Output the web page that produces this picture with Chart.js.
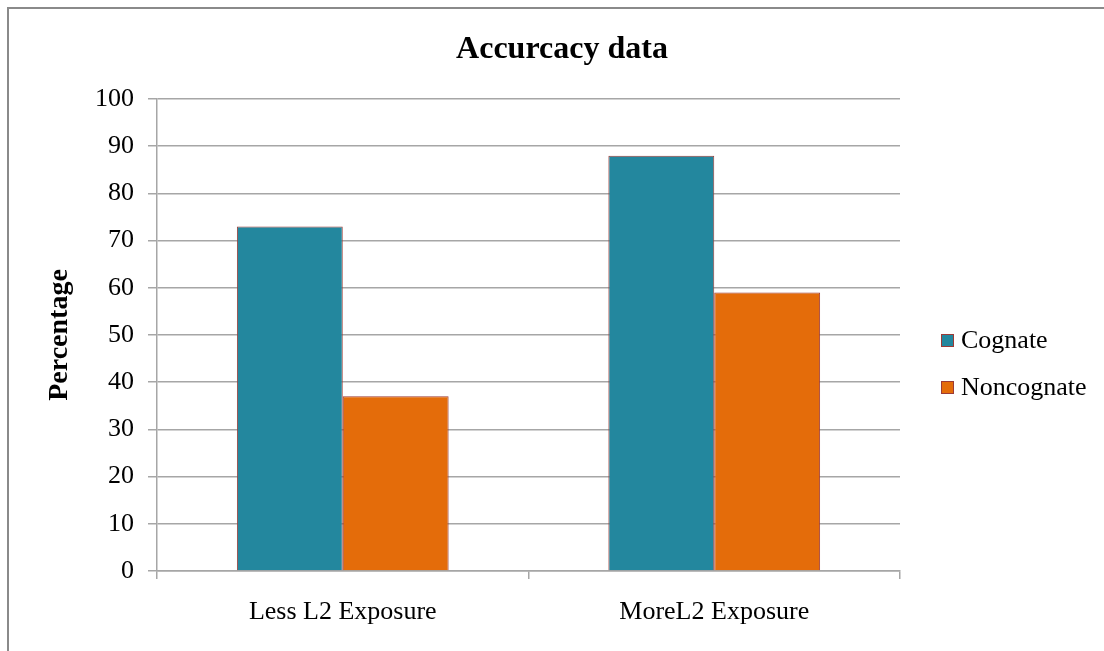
<!DOCTYPE html>
<html>
<head>
<meta charset="utf-8">
<script src="https://cdn.jsdelivr.net/npm/chart.js@4.4.1/dist/chart.umd.min.js"></script>
<style>
  html, body { margin: 0; padding: 0; background: #fff; }
  #caja { position: relative; width: 1104px; height: 651px; }
  #marco { position: absolute; left: 7px; top: 7px; right: -4px; bottom: -4px;
           border-left: 2px solid #8a8a8a; border-top: 2px solid #8a8a8a; }
  canvas { position: absolute; left: 0; top: 0; }
</style>
</head>
<body>
<div id="caja">
  <div id="marco"></div>
  <canvas id="miGrafica" width="1104" height="651"></canvas>
</div>
<script>
// Datos de la gráfica
const categorias = ['Less L2 Exposure', 'MoreL2 Exposure'];
const cognado = [73, 88];
const noCognado = [37, 59];
const nombresSeries = ['Cognate', 'Noncognate'];
const coloresSeries = ['#23879e', '#e46c0a'];
const borde = '#9c3b36';
const fuente = "'Liberation Serif', 'Times New Roman', serif";

// Leyenda dibujada a mano (a la derecha, como en el original)
const leyendaPropia = {
  id: 'leyendaPropia',
  afterDraw(chart) {
    const ctx = chart.ctx;
    ctx.save();
    ctx.font = "26px " + fuente;
    ctx.textBaseline = 'middle';
    chart.data.datasets.forEach((ds, i) => {
      const y = 340 + i * 47;
      ctx.fillStyle = ds.backgroundColor;
      ctx.fillRect(941, y - 6, 13, 13);
      ctx.strokeStyle = borde;
      ctx.lineWidth = 1;
      ctx.strokeRect(941.5, y - 5.5, 12, 12);
      ctx.fillStyle = '#000';
      ctx.fillText(ds.label, 961, y + 1);
    });
    ctx.restore();
  }
};

const lienzo = document.getElementById('miGrafica').getContext('2d');
new Chart(lienzo, {
  type: 'bar',
  data: {
    labels: categorias,
    datasets: [
      { label: nombresSeries[0], data: cognado, backgroundColor: coloresSeries[0],
        borderColor: borde, borderWidth: 1 },
      { label: nombresSeries[1], data: noCognado, backgroundColor: coloresSeries[1],
        borderColor: borde, borderWidth: 1 }
    ]
  },
  options: {
    responsive: false,
    animation: false,
    layout: { padding: { left: 20, right: 0, top: 0, bottom: 0 } },
    datasets: { bar: { categoryPercentage: 0.57, barPercentage: 1 } },
    plugins: {
      legend: { display: false },
      tooltip: { enabled: false },
      title: {
        display: true,
        text: 'Accurcacy data',
        color: '#000',
        font: { family: fuente, size: 32, weight: 'bold', lineHeight: 1.2 },
        padding: { top: 31, bottom: 29.6 }
      }
    },
    scales: {
      x: {
        afterFit(escala) { escala.height = 80; },
        grid: { display: true, offset: true, drawOnChartArea: false, drawTicks: true,
                tickLength: 8, color: '#a6a6a6', lineWidth: 1.5 },
        border: { color: '#a6a6a6', width: 1.5 },
        ticks: { color: '#000', font: { family: fuente, size: 26 }, padding: 18 }
      },
      y: {
        min: 0, max: 100,
        afterFit(escala) { escala.width = 137; },
        grid: { color: '#a6a6a6', lineWidth: 1.5, tickLength: 9 },
        border: { color: '#a6a6a6', width: 1.5 },
        ticks: { stepSize: 10, color: '#000', font: { family: fuente, size: 26 }, padding: 14 },
        title: {
          display: true,
          text: 'Percentage',
          color: '#000',
          font: { family: fuente, size: 28, weight: 'bold', lineHeight: 1.2 },
          padding: { top: 23, bottom: 0 }
        }
      },
      // eje vacío a la derecha para dejar sitio a la leyenda
      hueco: {
        type: 'linear',
        position: 'right',
        afterFit(escala) { escala.width = 204; },
        grid: { display: false },
        border: { display: false },
        ticks: { display: false }
      }
    }
  },
  plugins: [leyendaPropia]
});
</script>
</body>
</html>
